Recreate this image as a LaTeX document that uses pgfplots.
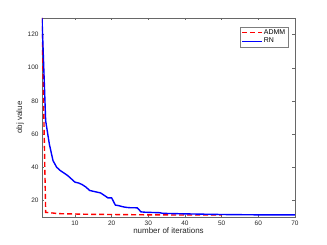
\documentclass[border=0pt]{standalone}
\usepackage{pgfplots}
\pgfplotsset{compat=1.18}
\usepackage{fontspec}
\setmainfont{Liberation Sans}
\definecolor{axgray}{rgb}{0.15,0.15,0.15}
\begin{document}
\begin{tikzpicture}
\begin{axis}[
  scale only axis,
  width=253bp, height=199bp,
  xmin=1, xmax=70, ymin=10, ymax=130,
  xtick={10,20,30,40,50,60,70},
  ytick={20,40,60,80,100,120},
  tick align=inside,
  tick pos=both,
  major tick length=2.5bp,
  axis line style={draw=axgray!70, line width=0.5pt},
  every tick/.style={draw=axgray!70, line width=0.4pt},
  tick label style={font=\fontsize{6.5}{7}\selectfont, text=axgray},
  /pgf/number format/assume math mode=true,
  label style={font=\fontsize{8}{9}\selectfont, text=axgray},
  xlabel={number of iterations},
  ylabel={obj value},
  xlabel style={yshift=4bp},
  ylabel style={yshift=-3bp},
  legend style={at={(0.972,0.957)}, anchor=north east, font=\fontsize{7}{8}\selectfont,
    draw=axgray!60, line width=0.4pt, inner sep=1.5pt, row sep=0.5pt,
    nodes={inner sep=1pt, text=black}},
  legend cell align=left,
  legend image code/.code={\draw[#1, line width=1pt] (0bp,0bp) -- (20bp,0bp);},
]
\coordinate (O) at (rel axis cs:0,0);
\addplot[red, line width=1.4pt, dash pattern=on 5bp off 3bp] coordinates {
(1,130) (2,12.8) (3,12.6) (4,12.4) (5,12.1) (6,12.0) (8,11.9) (10,11.8) (12,11.7)
(15,11.6) (20,11.5) (25,11.4) (30,11.3) (35,11.25) (40,11.2) (45,11.2) (50,11.2)
};
\addlegendentry{ADMM}
\addplot[blue, line width=1.4pt] coordinates {
(1,130) (2,68) (3,54) (4,44) (5,40) (6,38) (7,36.5) (8,35) (9,33) (10,31)
(11,30.5) (12,29.5) (13,28) (14,26) (15,25.5) (16,25) (17,24.5) (18,23) (19,21.5)
(20,21.5) (21,17.2) (22,16.8) (23,16.2) (24,15.8) (25,15.6) (26,15.6) (27,15.5)
(28,13.1) (29,12.9) (30,12.8) (33,12.6) (34,12.2) (36,12.1) (40,11.9) (45,11.7)
(50,11.5) (55,11.4) (60,11.3) (65,11.3) (70,11.3)
};
\addlegendentry{RN}
\end{axis}
\path (O) ++(-42bp,-28bp) rectangle ++(327bp,245bp);
\end{tikzpicture}
\end{document}
